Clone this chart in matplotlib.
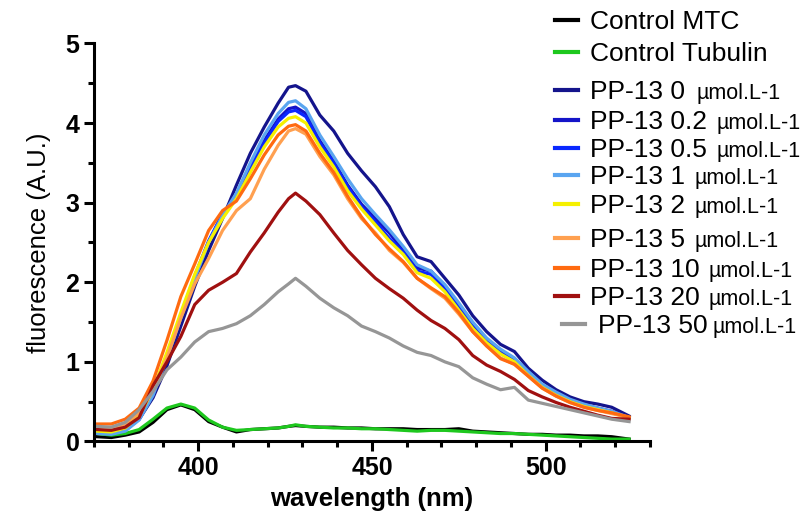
import numpy as np
import matplotlib
matplotlib.use("Agg")
import matplotlib.pyplot as plt
from matplotlib.lines import Line2D
from matplotlib.ticker import MultipleLocator

plt.rcParams['font.family'] = ['Liberation Sans', 'DejaVu Sans']

# wavelength grid (nm)
wavelength = [371, 375, 379, 383, 387, 391, 395, 399, 403, 407, 411, 415, 419, 423, 426, 428,
              431, 435, 439, 443, 447, 451, 455, 459, 463, 467, 471, 475, 479, 483, 487, 491,
              495, 499, 503, 507, 511, 515, 519, 524]

control_mtc = [0.06, 0.05, 0.08, 0.12, 0.24, 0.40, 0.46, 0.40, 0.25, 0.18, 0.12, 0.15, 0.16, 0.17, 0.19, 0.20,
               0.19, 0.18, 0.18, 0.17, 0.17, 0.16, 0.16, 0.16, 0.15, 0.15, 0.15, 0.16, 0.13, 0.12, 0.11, 0.10,
               0.09, 0.09, 0.08, 0.08, 0.07, 0.07, 0.06, 0.03]
control_tub = [0.10, 0.08, 0.10, 0.15, 0.28, 0.42, 0.47, 0.42, 0.27, 0.18, 0.14, 0.15, 0.16, 0.17, 0.19, 0.21,
               0.19, 0.18, 0.17, 0.17, 0.16, 0.16, 0.15, 0.14, 0.13, 0.14, 0.14, 0.13, 0.12, 0.11, 0.10, 0.10,
               0.09, 0.08, 0.07, 0.06, 0.05, 0.04, 0.03, 0.03]
pp_0 = [0.12, 0.11, 0.15, 0.28, 0.55, 0.95, 1.45, 1.95, 2.40, 2.80, 3.22, 3.62, 3.95, 4.25, 4.45, 4.47,
        4.40, 4.10, 3.90, 3.62, 3.40, 3.20, 2.95, 2.60, 2.32, 2.26, 2.05, 1.84, 1.58, 1.38, 1.22, 1.13,
        0.92, 0.77, 0.65, 0.56, 0.50, 0.47, 0.43, 0.32]
pp_02 = [0.11, 0.10, 0.14, 0.28, 0.58, 1.05, 1.55, 2.05, 2.50, 2.85, 3.10, 3.45, 3.78, 4.05, 4.18, 4.20,
         4.12, 3.78, 3.52, 3.22, 2.98, 2.80, 2.62, 2.40, 2.18, 2.14, 1.95, 1.70, 1.45, 1.27, 1.13, 1.03,
         0.85, 0.70, 0.60, 0.52, 0.46, 0.42, 0.38, 0.30]
pp_05 = [0.12, 0.11, 0.15, 0.29, 0.60, 1.08, 1.58, 2.08, 2.52, 2.86, 3.08, 3.42, 3.75, 4.02, 4.14, 4.16,
         4.08, 3.75, 3.50, 3.20, 2.95, 2.76, 2.55, 2.38, 2.14, 2.10, 1.92, 1.68, 1.43, 1.25, 1.11, 1.01,
         0.84, 0.69, 0.59, 0.51, 0.45, 0.41, 0.37, 0.30]
pp_1 = [0.10, 0.09, 0.13, 0.27, 0.58, 1.05, 1.55, 2.05, 2.50, 2.84, 3.12, 3.50, 3.85, 4.12, 4.26, 4.28,
        4.18, 3.85, 3.58, 3.30, 3.05, 2.85, 2.66, 2.45, 2.22, 2.14, 1.97, 1.74, 1.50, 1.30, 1.16, 1.05,
        0.88, 0.72, 0.62, 0.53, 0.47, 0.42, 0.38, 0.30]
pp_2 = [0.13, 0.12, 0.17, 0.32, 0.65, 1.12, 1.62, 2.10, 2.50, 2.80, 3.05, 3.38, 3.70, 3.95, 4.06, 4.08,
        4.00, 3.70, 3.45, 3.15, 2.92, 2.72, 2.52, 2.35, 2.12, 2.05, 1.88, 1.65, 1.42, 1.24, 1.10, 1.00,
        0.83, 0.68, 0.58, 0.50, 0.44, 0.40, 0.36, 0.30]
pp_5 = [0.17, 0.16, 0.22, 0.36, 0.64, 1.05, 1.55, 1.98, 2.30, 2.65, 2.90, 3.05, 3.42, 3.72, 3.90, 3.93,
        3.86, 3.58, 3.35, 3.05, 2.80, 2.62, 2.40, 2.25, 2.05, 1.92, 1.80, 1.60, 1.38, 1.20, 1.05, 0.97,
        0.82, 0.67, 0.57, 0.49, 0.43, 0.39, 0.35, 0.30]
pp_10 = [0.22, 0.22, 0.28, 0.42, 0.76, 1.27, 1.82, 2.23, 2.65, 2.90, 3.02, 3.30, 3.60, 3.85, 3.96, 3.98,
         3.90, 3.62, 3.38, 3.08, 2.82, 2.60, 2.42, 2.26, 2.05, 1.93, 1.82, 1.62, 1.38, 1.20, 1.04, 0.97,
         0.82, 0.67, 0.57, 0.49, 0.43, 0.39, 0.36, 0.31]
pp_20 = [0.15, 0.14, 0.18, 0.30, 0.70, 1.00, 1.32, 1.72, 1.90, 2.00, 2.11, 2.38, 2.62, 2.88, 3.05, 3.12,
         3.02, 2.85, 2.62, 2.40, 2.22, 2.05, 1.92, 1.80, 1.65, 1.52, 1.42, 1.28, 1.08, 0.96, 0.88, 0.78,
         0.64, 0.56, 0.49, 0.43, 0.38, 0.33, 0.29, 0.28]
pp_50 = [0.19, 0.18, 0.24, 0.40, 0.63, 0.90, 1.06, 1.25, 1.38, 1.42, 1.48, 1.58, 1.72, 1.88, 1.98, 2.05,
         1.95, 1.80, 1.68, 1.58, 1.45, 1.38, 1.30, 1.20, 1.12, 1.08, 1.00, 0.94, 0.80, 0.72, 0.65, 0.68,
         0.52, 0.48, 0.44, 0.40, 0.36, 0.32, 0.28, 0.25]

series = [control_mtc, control_tub, pp_0, pp_02, pp_05, pp_1, pp_2, pp_5, pp_10, pp_20, pp_50]
labels = ["Control MTC", "Control Tubulin", "PP-13 0", "PP-13 0.2", "PP-13 0.5", "PP-13 1",
          "PP-13 2", "PP-13 5", "PP-13 10", "PP-13 20", "PP-13 50"]
units = ["", "", "µmol.L-1", "µmol.L-1", "µmol.L-1", "µmol.L-1", "µmol.L-1",
         "µmol.L-1", "µmol.L-1", "µmol.L-1", "µmol.L-1"]
colors = ["#000000", "#1ec81e", "#14148c", "#1414c8", "#0a28ff", "#5aa5f0", "#f5f000",
          "#ffa050", "#ff6a10", "#a01010", "#969696"]

fig = plt.figure(figsize=(8.1, 5.21), dpi=100)
ax = fig.add_axes([0.116, 0.1526, 0.6864, 0.764])

for y, c in zip(series, colors):
    ax.plot(wavelength, y, color=c, lw=2.3)

ax.set_xlim(370, 530)
ax.set_ylim(0, 5)
ax.xaxis.set_major_locator(MultipleLocator(50))
ax.xaxis.set_minor_locator(MultipleLocator(10))
ax.yaxis.set_major_locator(MultipleLocator(1))
ax.yaxis.set_minor_locator(MultipleLocator(0.5))
for s in ["top", "right"]:
    ax.spines[s].set_visible(False)
for s in ["left", "bottom"]:
    ax.spines[s].set_linewidth(2.2)
ax.tick_params(which="major", length=7, width=2.2, labelsize=18)
ax.tick_params(which="minor", length=4, width=2.2)
for lab in ax.get_xticklabels() + ax.get_yticklabels():
    lab.set_fontweight("bold")
ax.set_xlabel("wavelength (nm)", fontsize=18.5, fontweight="bold", labelpad=5)
ax.set_ylabel("fluorescence (A.U.)", fontsize=18.5, labelpad=10)

# hand-made legend (mixed font sizes), positions in pixels of the 810x521 figure
W, H = 810.0, 521.0
row_y = [20, 52, 90, 120, 148, 175, 204, 238, 268, 296, 324]
unit_x = [0, 0, 697, 717, 717, 695, 695, 695, 708, 708, 712]
for i, (lab, un, c) in enumerate(zip(labels, units, colors)):
    x0 = 562 if i == len(labels) - 1 else 555
    fig.add_artist(Line2D([x0 / W, (x0 + 23) / W], [1 - row_y[i] / H] * 2,
                          transform=fig.transFigure, color=c, lw=3))
    tx = 598 if i == len(labels) - 1 else 590
    fig.text(tx / W, 1 - (row_y[i] + 9) / H, lab, fontsize=19, va="baseline")
    if un:
        fig.text(unit_x[i] / W, 1 - (row_y[i] + 9) / H, un, fontsize=15.5, va="baseline")

fig.savefig("out.png", dpi=100)
